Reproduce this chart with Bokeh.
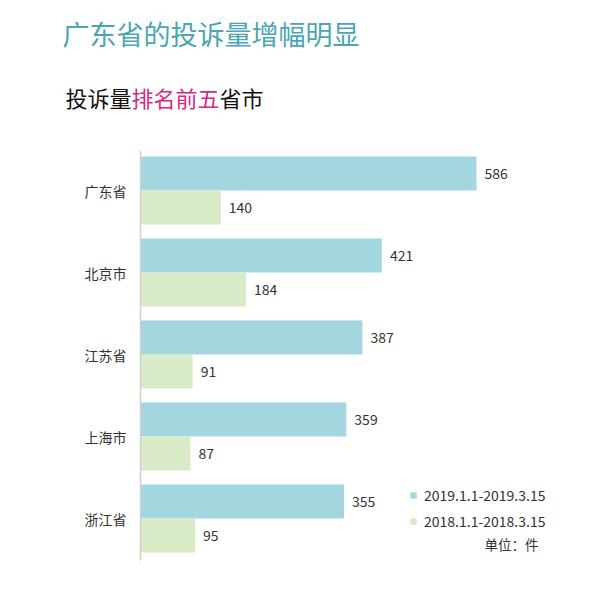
from bokeh.plotting import figure
from bokeh.models import ColumnDataSource, Range1d, Label, Legend, LegendItem
from bokeh.core.properties import value
from bokeh.embed import file_html
from bokeh.resources import INLINE

provinces = ["广东省", "北京市", "江苏省", "上海市", "浙江省"]
v2019 = [586, 421, 387, 359, 355]
v2018 = [140, 184, 91, 87, 95]
series_names = ["2019.1.1-2019.3.15", "2018.1.1-2018.3.15"]
title = "广东省的投诉量增幅明显"
sub_parts = ["投诉量", "排名前五", "省市"]
unit_text = "单位：件"

FONT = "Noto Sans CJK SC"
BLUE = "#a4d6df"
GREEN = "#d8eac6"

W, H = 609, 606
px_per_unit = (476 - 140) / 586.0
x0 = 140
grp_px = 82.0
grp0_y = 190.0
bar_h = 34 / grp_px

p = figure(width=W, height=H, output_backend="svg", toolbar_location=None,
           x_axis_location=None, y_axis_location=None, min_border=0,
           x_range=Range1d(-x0 / px_per_unit, (W - x0) / px_per_unit),
           y_range=Range1d((H - grp0_y) / grp_px, -grp0_y / grp_px))
p.outline_line_color = None
p.xgrid.visible = False
p.ygrid.visible = False
p.background_fill_color = "white"

idx = list(range(len(provinces)))
src = ColumnDataSource(dict(
    idx=idx,
    y_blue=[i - bar_h / 2 for i in idx],
    y_green=[i + bar_h / 2 for i in idx],
    v2019=v2019, v2018=v2018,
    t2019=[str(v) for v in v2019], t2018=[str(v) for v in v2018],
    prov=provinces, zero=[0] * len(idx),
))

r1 = p.hbar(y="y_blue", left=0, right="v2019", height=bar_h, source=src,
            fill_color=BLUE, line_color=None)
r2 = p.hbar(y="y_green", left=0, right="v2018", height=bar_h, source=src,
            fill_color=GREEN, line_color=None)

# axis line
p.segment(x0=[0], y0=[-40 / grp_px], x1=[0], y1=[370 / grp_px],
          line_color="#d0d0d0", line_width=1.5)

p.text(x="v2019", y="y_blue", text="t2019", source=src, x_offset=8,
       text_baseline="middle", text_align="left", text_font=value(FONT),
       text_font_size="14px", text_color="#333333")
p.text(x="v2018", y="y_green", text="t2018", source=src, x_offset=8,
       text_baseline="middle", text_align="left", text_font=value(FONT),
       text_font_size="14px", text_color="#333333")
p.text(x="zero", y="idx", text="prov", source=src, x_offset=-14,
       text_baseline="middle", text_align="right", text_font=value(FONT),
       text_font_size="14px", text_color="#333333")

p.add_layout(Label(x=62, y=H - 52, x_units="screen", y_units="screen",
                   text=title, text_font=FONT, text_font_size="27px",
                   text_color="#4aa6b3"))
sub_x = [65, 131, 219]
sub_col = ["#111111", "#d6287f", "#111111"]
for t, sx, c in zip(sub_parts, sub_x, sub_col):
    p.add_layout(Label(x=sx, y=H - 112, x_units="screen", y_units="screen",
                       text=t, text_font=FONT, text_font_size="22px",
                       text_color=c))

p.add_layout(Label(x=484, y=H - 553, x_units="screen", y_units="screen",
                   text=unit_text, text_font=FONT, text_font_size="13.5px",
                   text_color="#333333"))

legend = Legend(items=[LegendItem(label=series_names[0], renderers=[r1]),
                       LegendItem(label=series_names[1], renderers=[r2])],
                location=(409, H - 531), glyph_width=8, glyph_height=8,
                label_text_font=FONT, label_text_font_size="14px",
                label_text_color="#333333", border_line_color=None,
                background_fill_alpha=0, padding=4, spacing=6,
                label_standoff=7, label_height=16)
p.add_layout(legend)

open("out.html", "w").write(file_html(p, INLINE))
